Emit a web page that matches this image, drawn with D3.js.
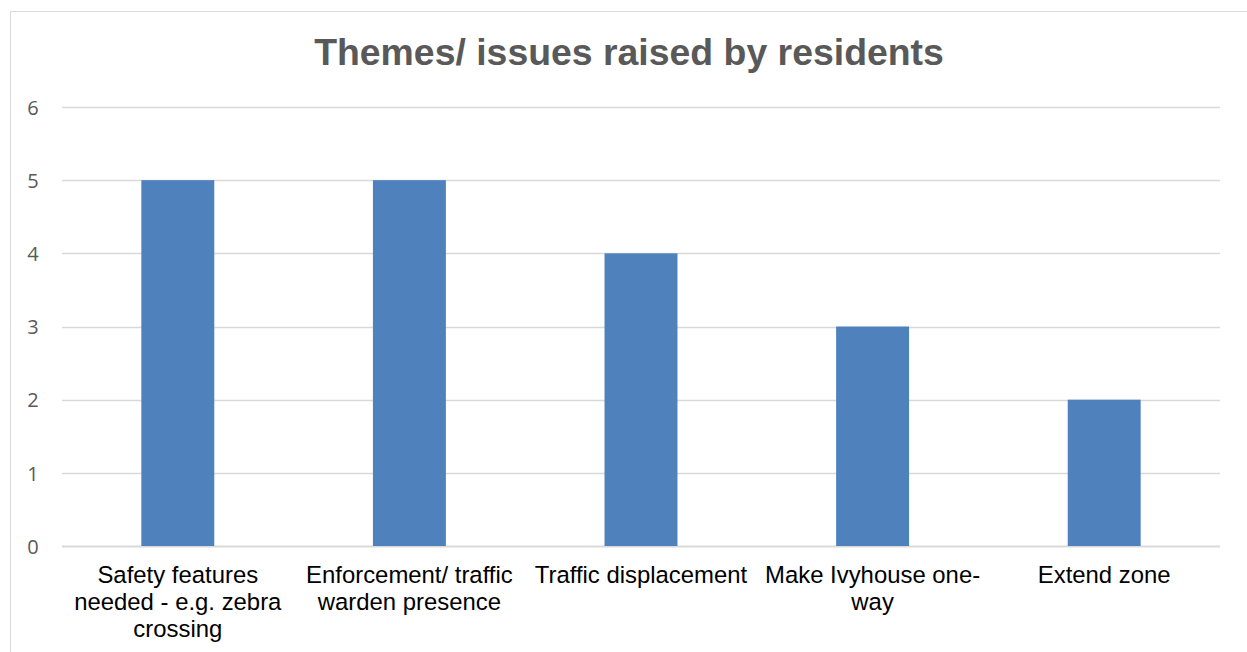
<!DOCTYPE html>
<html>
<head>
<meta charset="utf-8">
<script src="https://cdn.jsdelivr.net/npm/d3@7"></script>
<style>
  html, body { margin: 0; padding: 0; background: #fff; }
  svg { display: block; }
</style>
</head>
<body>
<svg id="chart" width="1247" height="652"></svg>
<script>
// Category labels, already split into the lines they wrap to
const categories = [
  ["Safety features", "needed - e.g. zebra", "crossing"],
  ["Enforcement/ traffic", "warden presence"],
  ["Traffic displacement"],
  ["Make Ivyhouse one-", "way"],
  ["Extend zone"]
];
const counts = [5, 5, 4, 3, 2];
const yTicks = [0, 1, 2, 3, 4, 5, 6];
const title = "Themes/ issues raised by residents";

const svg = d3.select("#chart");
const W = 1247, H = 652;
const plot = { left: 62, right: 1220, top: 107, bottom: 546 };

// Chart frame (only top and left edges fall inside the view)
svg.append("path")
  .attr("d", `M10.5,${H} V11.5 H${W}`)
  .attr("fill", "none")
  .attr("stroke", "#d9d9d9")
  .attr("stroke-width", 1);

svg.append("text")
  .attr("x", 629)
  .attr("y", 65)
  .attr("text-anchor", "middle")
  .style("font-family", "Liberation Sans, Arial, sans-serif")
  .style("font-weight", "bold")
  .style("font-size", "37.4px")
  .attr("fill", "#595959")
  .text(title);

const keys = categories.map((c, i) => i);
const x = d3.scaleBand().domain(keys).range([plot.left, plot.right]).padding(0);
const y = d3.scaleLinear().domain([0, 6]).range([plot.bottom, plot.top]);

// Horizontal gridlines
svg.append("g")
  .selectAll("line")
  .data(yTicks)
  .join("line")
  .attr("x1", plot.left)
  .attr("x2", plot.right)
  .attr("y1", d => Math.round(y(d)) + 0.5)
  .attr("y2", d => Math.round(y(d)) + 0.5)
  .attr("stroke", "#d9d9d9")
  .attr("stroke-width", d => d === 0 ? 2 : 1.3);

// Y axis labels
const yAxis = d3.axisLeft(y).tickValues(yTicks).tickSize(0).tickPadding(0).tickFormat(d3.format("d"));
const yG = svg.append("g").attr("transform", "translate(33,0)").call(yAxis);
yG.select(".domain").remove();
yG.selectAll("text")
  .attr("text-anchor", "middle")
  .attr("dy", "0.36em")
  .style("font-family", "Open Sans, sans-serif")
  .style("font-size", "20px")
  .attr("fill", "#595959");

// Bars
const barFrac = 0.315;
const barW = x.bandwidth() * barFrac;
svg.append("g")
  .selectAll("rect")
  .data(counts)
  .join("rect")
  .attr("x", (d, i) => x(i) + (x.bandwidth() - barW) / 2)
  .attr("y", d => y(d))
  .attr("width", barW)
  .attr("height", d => y(0) - y(d))
  .attr("fill", "#4f81bd");

// Category labels
const labels = svg.append("g")
  .selectAll("text")
  .data(categories)
  .join("text")
  .attr("x", (d, i) => x(i) + x.bandwidth() / 2)
  .attr("y", 583)
  .attr("text-anchor", "middle")
  .style("font-family", "Liberation Sans, Arial, sans-serif")
  .style("font-size", "23.9px")
  .attr("fill", "#000");
labels.selectAll("tspan")
  .data(d => d)
  .join("tspan")
  .attr("x", function () { return d3.select(this.parentNode).attr("x"); })
  .attr("dy", (d, j) => j === 0 ? 0 : 27)
  .text(d => d);
</script>
</body>
</html>
